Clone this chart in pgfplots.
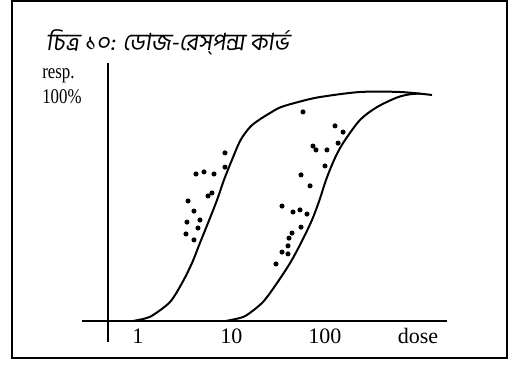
\documentclass[border=0pt]{standalone}
\usepackage{pgfplots}
\pgfplotsset{compat=1.18}
\usepackage{fontspec}
\setmainfont{Liberation Serif}
\newfontfamily\bengalifont[Script=Bengali]{Hind Siliguri}
\usepackage{graphicx}

\pgfplotstableread{
dose y
8.52 73.4
8.52 67.2
4.17 64.2
5.08 65.1
6.50 64.2
6.18 55.9
5.61 54.6
3.43 52.4
3.97 48.0
4.60 44.1
3.34 43.2
4.38 40.6
3.26 38.0
3.97 35.4
}\leftpts

\pgfplotstableread{
dose y
58.2 91.3
156 82.5
138 77.7
128 85.2
74.4 76.4
80.1 74.7
105 74.7
100 67.7
55.4 63.8
69.2 59.0
34.7 50.2
45.5 47.6
54.0 48.5
64.2 46.7
55.4 41.0
44.4 38.4
41.2 36.2
40.2 32.8
34.7 30.1
40.2 29.3
29.9 24.9
}\rightpts

\begin{document}
\begin{tikzpicture}
\path (0,0) rectangle (254.5pt,187.5pt);
\draw[line width=0.7pt] (6pt,8.5pt) rectangle (253.5pt,187pt);
\node[anchor=west, inner sep=0, xslant=0.15] at (23.5pt,166.5pt) {\resizebox{121.5pt}{!}{\bengalifont চিত্র ১০: ডোজ-রেস্‌পন্স কার্ভ}};
\node[anchor=base west, inner sep=0, xscale=0.8, font=\fontsize{10.5}{12}\selectfont] at (21pt,148pt) {resp.};
\node[anchor=base west, inner sep=0, xscale=0.8, font=\fontsize{10.5}{12}\selectfont] at (21pt,135.5pt) {100\%};
\begin{axis}[
  at={(40.95pt,15.55pt)}, anchor=south west,
  scale only axis, width=182.325pt, height=143.125pt,
  xmode=log, xmin=0.2512, xmax=1995.3, ymin=-10, ymax=115,
  clip=false,
  axis x line*=bottom, axis y line=none,
  x axis line style={draw=none},
  xtick={1,10,100}, xticklabels={1,10,100},
  major tick length=0pt, minor tick num=0,
  xminorticks=false,
  xticklabel style={anchor=center, yshift=3.95pt, font=\fontsize{11}{13}\selectfont},
  /pgf/number format/assume math mode=true,
  ytick=\empty,
]
\draw[line width=1pt] (axis cs:0.2512,0) -- (axis cs:1995.3,0);
\draw[line width=1.1pt] (axis cs:0.4786,-9.2) -- (axis cs:0.4786,112.7);

\addplot[black, line width=1pt, smooth, tension=0.5] coordinates {
(0.885,0) (1.19,1.1) (1.45,2.6) (2.20,8.3) (2.96,16.6) (3.78,25.3)
(4.60,34.1) (5.61,42.8) (7.00,52.8) (8.31,61.6) (10.1,70.3) (12.5,79.0)
(15.8,84.7) (19.7,87.8) (25.8,90.8) (33.8,93.4) (55,95.9) (88.5,97.8) (237,100) (634,100) (1394,98.7)
};
\addplot[black, line width=1pt, smooth, tension=0.5] coordinates {
(8.73,0) (11.7,1.1) (14.6,2.6) (21.7,8.3) (30.7,16.6) (42.3,25.3)
(55.4,34.1) (72.6,44.1) (87.3,52.8) (102.6,61.6) (125,70.3) (156,77.7)
(237,87.8) (360,93.4) (589,97.6) (811,99.0) (1038,99.3)
};

\addplot[only marks, mark=*, mark size=1.05pt, black] table[x=dose,y=y] {\leftpts};
\addplot[only marks, mark=*, mark size=1.05pt, black] table[x=dose,y=y] {\rightpts};

\node[anchor=center, font=\fontsize{11}{13}\selectfont] at (axis cs:988,-6.55) {dose};
\end{axis}
\end{tikzpicture}
\end{document}
